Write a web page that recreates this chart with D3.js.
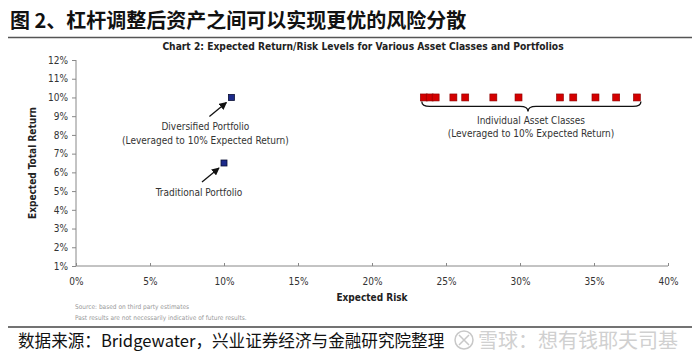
<!DOCTYPE html>
<html>
<head>
<meta charset="utf-8">
<script src="https://cdn.jsdelivr.net/npm/d3@7"></script>
<style>
  body { margin: 0; background: #fff; }
  svg { display: block; }
  .en { font-family: "Liberation Sans Narrow", "DejaVu Sans Condensed", "Liberation Sans", sans-serif; }
</style>
</head>
<body>
<div id="chart"></div>
<script>
// Data
const PORTFOLIO_NAMES = ['Diversified Portfolio', 'Traditional Portfolio']
const PORTFOLIO_RISK = [10.5, 10.0]
const PORTFOLIO_RETURN = [10, 6.5]

const ASSET_RISK = [23.5, 23.9, 24.3, 25.5, 26.3, 28.2, 29.9, 32.7, 33.6, 35.1, 36.5, 37.9]
const ASSET_RETURN = [10, 10, 10, 10, 10, 10, 10, 10, 10, 10, 10, 10]

const X_TICKS = [0, 5, 10, 15, 20, 25, 30, 35, 40]
const Y_TICKS = [1, 2, 3, 4, 5, 6, 7, 8, 9, 10, 11, 12]

// Chart dimensions
const WIDTH = 700
const HEIGHT = 362

var svg = d3.select('#chart').append('svg')
    .attr('width', WIDTH)
    .attr('height', HEIGHT)

// Header
svg.append('text')
    .attr('x', 10).attr('y', 28)
    .style('font-family', '"Noto Sans CJK SC", sans-serif')
    .style('font-size', '20px')
    .style('font-weight', 'bold')
    .attr('fill', '#111')
    .text('图 2、杠杆调整后资产之间可以实现更优的风险分散')

svg.append('line')
    .attr('x1', 8).attr('x2', 692)
    .attr('y1', 37.5).attr('y2', 37.5)
    .attr('stroke', '#555').attr('stroke-width', 1.5)

svg.append('text').classed('en', true)
    .attr('x', 363).attr('y', 50)
    .attr('text-anchor', 'middle')
    .style('font-size', '10.2px')
    .style('font-weight', 'bold')
    .attr('fill', '#222')
    .text('Chart 2: Expected Return/Risk Levels for Various Asset Classes and Portfolios')

// Scales
var x = d3.scaleLinear().domain([0, 40]).range([76, 668])
var y = d3.scaleLinear().domain([1, 12]).range([266, 60])

// Axes
var xAxis = svg.append('g')
    .attr('transform', 'translate(0,' + y(1) + ')')
    .call(d3.axisBottom(x).tickValues(X_TICKS).tickSize(-3).tickPadding(10)
        .tickFormat(d => d + '%'))
var yAxis = svg.append('g')
    .attr('transform', 'translate(' + x(0) + ',0)')
    .call(d3.axisLeft(y).tickValues(Y_TICKS).tickSize(4).tickPadding(4)
        .tickFormat(d => d + '%'))

;[xAxis, yAxis].forEach(function(a){
    a.select('.domain').attr('stroke', '#888')
    a.selectAll('.tick line').attr('stroke', '#888')
    a.selectAll('.tick text').classed('en', true)
        .style('font-size', '10px')
        .attr('fill', '#333')
})
xAxis.selectAll('.tick text').attr('dy', '0.9em')
xAxis.select('.domain').attr('d', 'M' + x(0) + ',0H' + x(40))
yAxis.select('.domain').attr('d', 'M0,' + y(12) + 'V' + y(1))

// Axis titles
svg.append('text').classed('en', true)
    .attr('transform', 'translate(36,' + ((y(1) + y(12)) / 2) + ') rotate(-90)')
    .attr('text-anchor', 'middle')
    .style('font-size', '10px').style('font-weight', 'bold')
    .attr('fill', '#222')
    .text('Expected Total Return')

svg.append('text').classed('en', true)
    .attr('x', x(20)).attr('y', 301)
    .attr('text-anchor', 'middle')
    .style('font-size', '10px').style('font-weight', 'bold')
    .attr('fill', '#222')
    .text('Expected Risk')

// Arrow marker
svg.append('defs').append('marker')
    .attr('id', 'arrow')
    .attr('viewBox', '0 0 10 10')
    .attr('refX', 9).attr('refY', 5)
    .attr('markerWidth', 6).attr('markerHeight', 6)
    .attr('orient', 'auto')
    .append('path').attr('d', 'M0,0L10,5L0,10z').attr('fill', '#111')

// Portfolio points
svg.selectAll('.pf').data(PORTFOLIO_NAMES).enter()
    .append('rect').classed('pf', true)
    .attr('x', (d, i) => x(PORTFOLIO_RISK[i]) - 3)
    .attr('y', (d, i) => y(PORTFOLIO_RETURN[i]) - 3)
    .attr('width', 6).attr('height', 6)
    .attr('fill', '#1c2a8a').attr('stroke', '#0a0f33').attr('stroke-width', 0.8)

// Portfolio annotations
var pfLabels = [
    ['Diversified Portfolio', '(Leveraged to 10% Expected Return)'],
    ['Traditional Portfolio']
]
var pfLabelDx = [-26, -25]
PORTFOLIO_NAMES.forEach(function(name, i){
    var px = x(PORTFOLIO_RISK[i]), py = y(PORTFOLIO_RETURN[i])
    svg.append('line')
        .attr('x1', px - 22).attr('y1', py + 19)
        .attr('x2', px - 5).attr('y2', py + 5)
        .attr('stroke', '#111').attr('stroke-width', 1.3)
        .attr('marker-end', 'url(#arrow)')
    pfLabels[i].forEach(function(t, j){
        svg.append('text').classed('en', true)
            .attr('x', px + pfLabelDx[i]).attr('y', py + 33 + j * 14)
            .attr('text-anchor', 'middle')
            .style('font-size', '10px')
            .attr('fill', '#333')
            .text(t)
    })
})

// Individual asset classes
svg.selectAll('.asset').data(ASSET_RISK).enter()
    .append('rect').classed('asset', true)
    .attr('x', d => x(d) - 3.5)
    .attr('y', (d, i) => y(ASSET_RETURN[i]) - 3.5)
    .attr('width', 7).attr('height', 7)
    .attr('fill', '#d40000').attr('stroke', '#8a0000').attr('stroke-width', 0.6)

// Curly brace under the asset classes
var bx0 = x(d3.min(ASSET_RISK)) - 2, bx1 = x(d3.max(ASSET_RISK)) + 4
var bm = 528, by = y(10) + 4
svg.append('path')
    .attr('d', 'M' + bx0 + ',' + by +
        ' Q' + bx0 + ',' + (by + 5) + ' ' + (bx0 + 8) + ',' + (by + 5) +
        ' L' + (bm - 8) + ',' + (by + 5) +
        ' Q' + bm + ',' + (by + 5) + ' ' + bm + ',' + (by + 10) +
        ' Q' + bm + ',' + (by + 5) + ' ' + (bm + 8) + ',' + (by + 5) +
        ' L' + (bx1 - 8) + ',' + (by + 5) +
        ' Q' + bx1 + ',' + (by + 5) + ' ' + bx1 + ',' + by)
    .attr('fill', 'none').attr('stroke', '#111').attr('stroke-width', 1.3)

;['Individual Asset Classes', '(Leveraged to 10% Expected Return)'].forEach(function(t, j){
    svg.append('text').classed('en', true)
        .attr('x', 531).attr('y', by + 23 + j * 12.5)
        .attr('text-anchor', 'middle')
        .style('font-size', '10px')
        .attr('fill', '#333')
        .text(t)
})

// Source notes
;['Source: based on third party estimates',
  'Past results are not necessarily indicative of future results.'].forEach(function(t, j){
    svg.append('text').classed('en', true)
        .attr('x', 75).attr('y', 309 + j * 11)
        .style('font-size', '6.5px')
        .attr('fill', '#999')
        .text(t)
})

// Footer
svg.append('line')
    .attr('x1', 8).attr('x2', 692)
    .attr('y1', 327).attr('y2', 327)
    .attr('stroke', '#444').attr('stroke-width', 1.5)

svg.append('text')
    .attr('x', 18).attr('y', 347)
    .style('font-family', '"Noto Sans CJK SC", sans-serif')
    .style('font-size', '16.6px')
    .attr('fill', '#111')
    .text('数据来源：Bridgewater，兴业证券经济与金融研究院整理')

// Watermark
var wm = svg.append('g').attr('fill', 'none').attr('stroke', '#c8c8c8')
wm.append('circle').attr('cx', 464).attr('cy', 340).attr('r', 9).attr('stroke-width', 1.5)
wm.append('path').attr('d', 'M459,335L469,345M469,335L459,345').attr('stroke-width', 1.5)
svg.append('text')
    .attr('x', 478).attr('y', 348)
    .style('font-family', '"Noto Sans CJK SC", sans-serif')
    .style('font-size', '20px')
    .attr('fill', '#d0d0d0')
    .text('雪球：想有钱耶夫司基')
</script>
</body>
</html>
